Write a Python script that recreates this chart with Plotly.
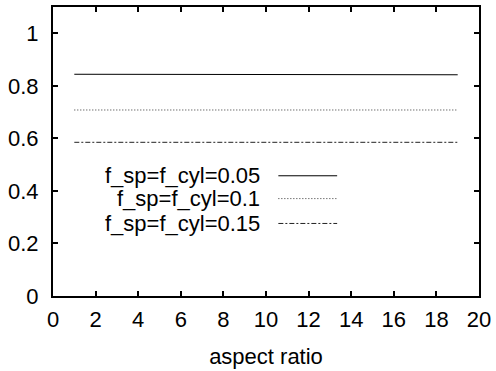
import plotly.graph_objects as go

# aspect ratio sampled along each curve
aspect_ratio = [1, 2, 3, 4, 5, 6, 7, 8, 9, 10, 11, 12, 13, 14, 15, 16, 17, 18, 19]

# volume fraction results for three filler fractions
frac_005 = [0.844, 0.844, 0.844, 0.844, 0.843, 0.843, 0.843, 0.843, 0.843, 0.843,
            0.843, 0.843, 0.843, 0.843, 0.842, 0.842, 0.842, 0.842, 0.842]
frac_010 = [0.708, 0.708, 0.708, 0.708, 0.708, 0.708, 0.708, 0.708, 0.708, 0.708,
            0.708, 0.708, 0.708, 0.708, 0.708, 0.708, 0.708, 0.708, 0.708]
frac_015 = [0.585, 0.585, 0.585, 0.585, 0.585, 0.585, 0.585, 0.585, 0.585, 0.585,
            0.585, 0.585, 0.585, 0.585, 0.586, 0.586, 0.586, 0.586, 0.585]

series_names = ["f_sp=f_cyl=0.05", "f_sp=f_cyl=0.1", "f_sp=f_cyl=0.15"]
series_values = [frac_005, frac_010, frac_015]
dash_styles = ["solid", "1px,2px", "5px,2px,2px,2px"]
line_colors = ["#000000", "#333333", "#222222"]

x_ticks = [0, 2, 4, 6, 8, 10, 12, 14, 16, 18, 20]
y_ticks = [0, 0.2, 0.4, 0.6, 0.8, 1]
y_tick_text = ["0", "0.2", "0.4", "0.6", "0.8", "1"]

FONT = "Liberation Sans, Arial, Helvetica, sans-serif"
FS = 22

fig = go.Figure()
for name, vals, dash, col in zip(series_names, series_values, dash_styles, line_colors):
    fig.add_trace(go.Scatter(x=aspect_ratio, y=vals, mode="lines", name=name,
                             line=dict(color=col, width=1, dash=dash),
                             showlegend=False))

# key drawn gnuplot-style: right-aligned label followed by a line sample
key_rows_y = [0.416, 0.337, 0.251]
for name, dash, col, ky in zip(series_names, dash_styles, line_colors, key_rows_y):
    fig.add_annotation(xref="paper", yref="paper", x=0.491, y=ky, text=name,
                       showarrow=False, xanchor="right", yanchor="middle",
                       font=dict(family=FONT, size=FS, color="black"))
    fig.add_shape(type="line", xref="paper", yref="paper",
                  x0=0.529, x1=0.667, y0=ky, y1=ky,
                  line=dict(color=col, width=1, dash=dash))

axis_common = dict(showgrid=False, zeroline=False, showline=True, linecolor="black",
                   linewidth=2, mirror="allticks", ticks="inside", ticklen=5,
                   tickwidth=1.5, tickcolor="black",
                   tickfont=dict(family=FONT, size=FS, color="black"))

fig.update_xaxes(range=[0, 20], tickvals=x_ticks, ticklabelstandoff=3,
                 title=dict(text="aspect ratio", standoff=17,
                            font=dict(family=FONT, size=FS, color="black")),
                 **axis_common)
fig.update_yaxes(range=[0, 1.1], tickvals=y_ticks, ticktext=y_tick_text,
                 ticklabelstandoff=8, **axis_common)

fig.update_layout(width=496, height=371, margin=dict(l=53, r=16, t=5, b=75),
                  plot_bgcolor="white", paper_bgcolor="white",
                  font=dict(family=FONT, size=FS, color="black"))

fig.write_html("out.html")
